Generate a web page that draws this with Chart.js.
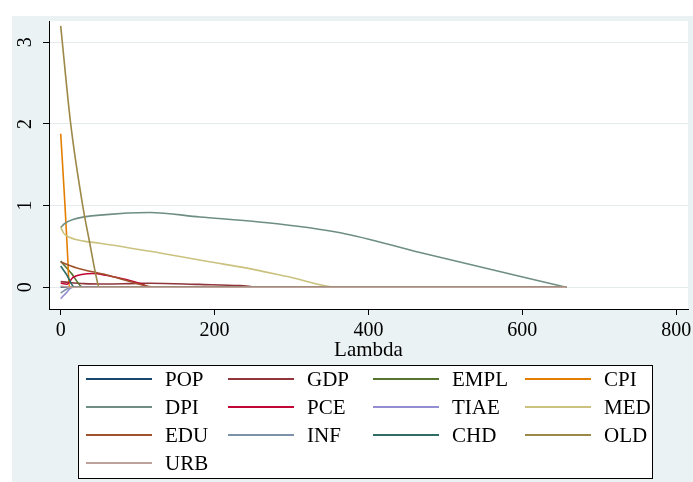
<!DOCTYPE html>
<html>
<head>
<meta charset="utf-8">
<script src="https://cdn.jsdelivr.net/npm/chart.js@4.4.1/dist/chart.umd.min.js"></script>
<style>
  html, body { margin: 0; padding: 0; background: #fff; }
  #wrap { width: 693px; height: 482px; }
</style>
</head>
<body>
<div id="wrap"><canvas id="grafik" width="693" height="482"></canvas></div>
<script>
/* ===== data (lambda, coefficient) ===== */
const seriesNames = ["POP", "GDP", "EMPL", "CPI", "DPI", "PCE", "TIAE", "MED", "EDU", "INF", "CHD", "OLD", "URB"];
const seriesColors = ["#1a476f", "#90353b", "#55752f", "#e37e00", "#6e8e84", "#c10534", "#938dd2", "#cac27e", "#a0522d", "#7b92a8", "#2d6d66", "#9c8847", "#bfa19c"];
const xTicks = [0, 200, 400, 600, 800];
const yTicks = [0, 1, 2, 3];

const POP  = [[0, 0.005], [10, 0], [657, 0]];
const GDP  = [[0, 0.07], [10, 0.06], [30, 0.045], [60, 0.04], [90, 0.045], [116, 0.05], [180, 0.035], [233, 0.02], [260, 0], [657, 0]];
const EMPL = [[0, 0.32], [14, 0.17], [29, 0], [657, 0]];
const CPI  = [[0, 1.88], [5.6, 1.0], [9, 0.39], [11.3, 0], [657, 0]];
const DPI  = [[0, 0.73], [5, 0.78], [16, 0.83], [59, 0.89], [116, 0.915], [181, 0.86], [258, 0.80], [365, 0.665], [467, 0.425], [657, 0]];
const PCE  = [[0, 0.053], [8, 0.037], [16, 0.12], [29, 0.16], [42, 0.168], [59, 0.147], [85, 0.094], [107, 0.033], [116, 0], [657, 0]];
const TIAE = [[0, -0.14], [5, -0.09], [16, 0], [657, 0]];
const MED  = [[0, 0.735], [4, 0.66], [12, 0.61], [30, 0.565], [51, 0.54], [129, 0.42], [195, 0.31], [233, 0.25], [300, 0.12], [360, 0], [657, 0]];
const EDU  = [[0, 0.31], [20, 0.24], [60, 0.15], [90, 0.07], [115, 0.01], [125, 0], [657, 0]];
const INF  = [[0, -0.07], [8, -0.02], [15, 0], [657, 0]];
const CHD  = [[0, 0.26], [8, 0.15], [18, 0], [657, 0]];
const OLD  = [[0, 3.2], [13, 2.0], [28.6, 1.0], [38, 0.53], [46.4, 0.12], [50, 0], [657, 0]];
const URB  = [[0, 0.016], [10, 0], [657, 0]];

const seriesData = [POP, GDP, EMPL, CPI, DPI, PCE, TIAE, MED, EDU, INF, CHD, OLD, URB];

/* ===== plugins ===== */
const serifFont = "Liberation Serif";

// Stata-like background: bluish grey graph region, white plot region
const panelPlugin = {
  id: "panel",
  beforeDraw(chart) {
    const { ctx, chartArea: a } = chart;
    ctx.save();
    ctx.fillStyle = "#fff";
    ctx.fillRect(0, 0, chart.width, chart.height);
    ctx.fillStyle = "#eaf2f3";
    ctx.fillRect(12, 16, chart.width - 12, chart.height - 16);
    ctx.fillStyle = "#fff";
    ctx.fillRect(a.left, a.top, a.right - a.left, a.bottom - a.top);
    ctx.restore();
  }
};

// legend box, 4 columns
const legendPlugin = {
  id: "stataLegend",
  afterDraw(chart) {
    const ctx = chart.ctx;
    const box = { x: 78, y: 365, w: 574, h: 113 };
    const colX = [86, 228, 373, 525];
    const rowY = [379, 407, 435, 463];
    ctx.save();
    ctx.fillStyle = "#fff";
    ctx.fillRect(box.x, box.y, box.w, box.h);
    ctx.strokeStyle = "#000";
    ctx.lineWidth = 1;
    ctx.strokeRect(box.x + 0.5, box.y + 0.5, box.w, box.h);
    ctx.font = `21px "${serifFont}"`;
    ctx.textBaseline = "middle";
    ctx.textAlign = "left";
    chart.data.datasets.forEach((ds, i) => {
      const cx = colX[i % 4];
      const cy = rowY[Math.floor(i / 4)];
      ctx.strokeStyle = ds.borderColor;
      ctx.lineWidth = 2;
      ctx.beginPath();
      ctx.moveTo(cx, cy);
      ctx.lineTo(cx + 66, cy);
      ctx.stroke();
      ctx.fillStyle = "#000";
      ctx.fillText(ds.label, cx + 79, cy + 1);
    });
    ctx.restore();
  }
};

/* ===== chart ===== */
const datasets = seriesNames.map((name, i) => ({
  label: name,
  data: seriesData[i].map(p => ({ x: p[0], y: p[1] })),
  borderColor: seriesColors[i],
  backgroundColor: seriesColors[i],
  borderWidth: 1.6,
  pointRadius: 0,
  fill: false,
  cubicInterpolationMode: "monotone",
  order: seriesNames.length - i   // last series on top, as in Stata
}));

new Chart(document.getElementById("grafik"), {
  type: "line",
  data: { datasets },
  options: {
    responsive: false,
    animation: false,
    devicePixelRatio: 1,
    layout: { padding: { left: 12, right: 5, top: 21, bottom: 119 } },
    plugins: {
      legend: { display: false },
      tooltip: { enabled: false }
    },
    scales: {
      x: {
        type: "linear",
        min: -15.2,
        max: 815.4,
        afterBuildTicks: s => { s.ticks = xTicks.map(v => ({ value: v })); },
        afterFit: s => { s.height = 54; s.paddingLeft = 0; s.paddingRight = 0; },
        ticks: {
          minRotation: 0, maxRotation: 0, padding: 4, color: "#000",
          font: { family: serifFont, size: 20 }
        },
        grid: { drawOnChartArea: false, tickColor: "#000", tickLength: 6 },
        border: { color: "#000", width: 1 },
        title: {
          display: true, text: "Lambda", color: "#000",
          font: { family: serifFont, size: 21 },
          padding: { top: 0, bottom: 0 }
        }
      },
      y: {
        type: "linear",
        min: -0.266,
        max: 3.26,
        afterBuildTicks: s => { s.ticks = yTicks.map(v => ({ value: v })); },
        afterFit: s => { s.width = 37; s.paddingTop = 0; s.paddingBottom = 0; },
        ticks: {
          minRotation: 90, maxRotation: 90, crossAlign: "center", padding: 12,
          color: "#000", font: { family: serifFont, size: 20 }
        },
        grid: { color: "#e3ebed", lineWidth: 1, tickColor: "#000", tickLength: 6 },
        border: { color: "#000", width: 1 }
      }
    }
  },
  plugins: [panelPlugin, legendPlugin]
});
</script>
</body>
</html>
